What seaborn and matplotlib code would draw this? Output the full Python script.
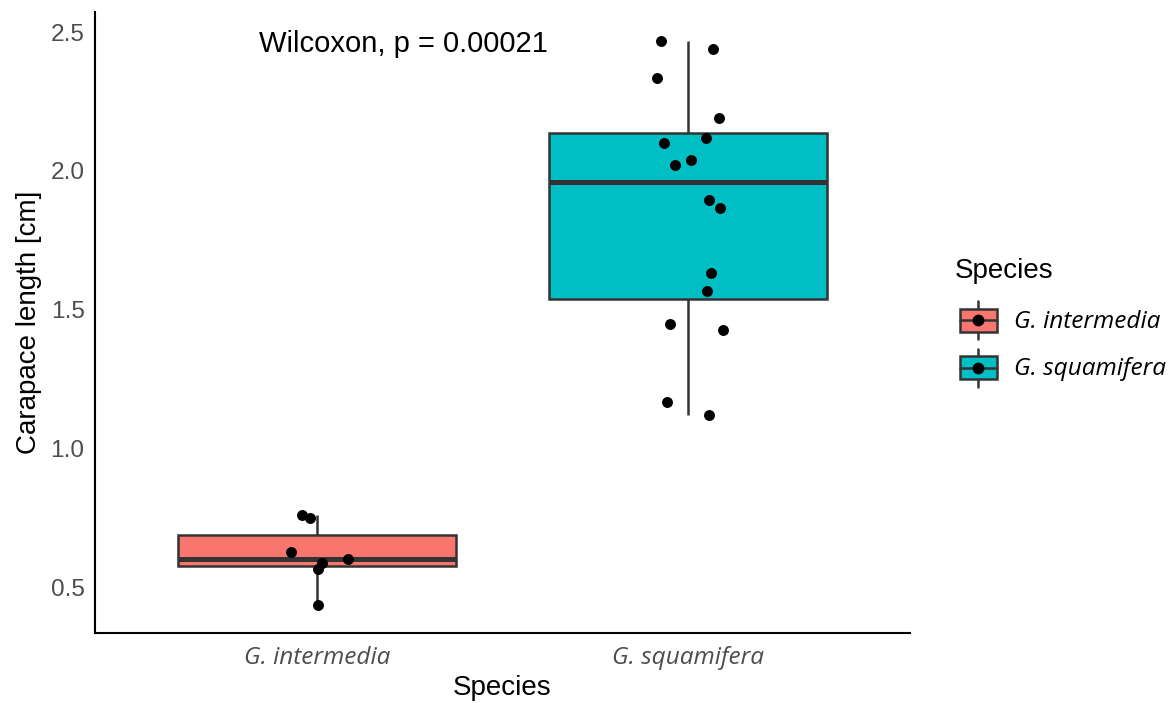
import numpy as np
import pandas as pd
import seaborn as sns
import matplotlib.pyplot as plt
from matplotlib.patches import Rectangle, Patch
from matplotlib.lines import Line2D
from matplotlib.legend_handler import HandlerBase

# ---------------------------------------------------------------------------
# data
# ---------------------------------------------------------------------------
species = ['G. intermedia', 'G. squamifera']
colors = ['#F8766D', '#00BFC4']

intermedia_len = [0.762, 0.750, 0.627, 0.603, 0.589, 0.567, 0.438]
intermedia_jit = [-0.041, -0.020, -0.071, 0.082, 0.012, 0.001, 0.003]

squamifera_len = [2.468, 2.438, 2.335, 2.191, 2.118, 2.101, 2.041, 2.023,
                  1.894, 1.866, 1.634, 1.568, 1.450, 1.426, 1.168, 1.122]
squamifera_jit = [-0.072, 0.067, -0.083, 0.085, 0.048, -0.063, 0.010, -0.034,
                  0.058, 0.086, 0.062, 0.051, -0.049, 0.094, -0.057, 0.058]

p_label = 'Wilcoxon, p = 0.00021'
y_ticks = [0.5, 1.0, 1.5, 2.0, 2.5]

df = pd.DataFrame({
    'Species': [species[0]] * len(intermedia_len) + [species[1]] * len(squamifera_len),
    'length': intermedia_len + squamifera_len,
    'jitter': intermedia_jit + squamifera_jit,
})
df['xpos'] = df['Species'].map({s: i for i, s in enumerate(species)}) + df['jitter']

# ---------------------------------------------------------------------------
# plot
# ---------------------------------------------------------------------------
sns.set_style('white')
plt.rcParams['font.family'] = ['Liberation Sans', 'DejaVu Sans']
plt.rcParams['text.color'] = 'black'
plt.rcParams['axes.labelcolor'] = 'black'

italic_fam = ['Open Sans', 'Noto Sans', 'DejaVu Sans']

fig = plt.figure(figsize=(11.74, 7.03), dpi=100)
ax = fig.add_axes([95 / 1174, 1 - 633 / 703, 815 / 1174, 621 / 703])

sns.boxplot(data=df, x='Species', y='length', hue='Species', order=species,
            hue_order=species, palette=colors, saturation=1, width=0.75,
            linecolor='#333333', linewidth=1.8, showcaps=False, showfliers=False,
            medianprops=dict(linewidth=3.6), legend=False, ax=ax)
sns.scatterplot(data=df, x='xpos', y='length', color='black', s=62,
                linewidth=0, zorder=3, ax=ax)

ax.set_xlim(-0.6, 1.6)
ax.set_ylim(0.337, 2.572)
ax.set_xticks([0, 1])
ax.set_xticklabels(species, family=italic_fam, style='italic',
                   fontsize=17.6, color='#4D4D4D')
ax.set_yticks(y_ticks)
ax.set_yticklabels([f'{t:.1f}' for t in y_ticks], fontsize=17.6, color='#4D4D4D')
ax.tick_params(axis='both', length=4.3, width=1.2, color='#333333', pad=3.2)
ax.tick_params(axis='x', pad=5)

for side in ['top', 'right']:
    ax.spines[side].set_visible(False)
for side in ['left', 'bottom']:
    ax.spines[side].set_linewidth(1.5)
    ax.spines[side].set_color('black')

ax.set_xlabel('Species', fontsize=20, labelpad=4)
ax.set_ylabel('Carapace length [cm]', fontsize=20, labelpad=6)

ax.text(-0.157, 2.457, p_label, fontsize=21, ha='left', va='center')


# legend key: whisker, box, median and a dot like the ggplot key
class BoxKeyHandler(HandlerBase):
    def create_artists(self, legend, orig_handle, xdescent, ydescent,
                       width, height, fontsize, trans):
        x0, y0 = -xdescent, -ydescent
        cx = x0 + width / 2
        cy = y0 + height / 2
        whisk = Line2D([cx, cx], [y0, y0 + height], color='#333333', lw=1.8,
                       transform=trans)
        box = Rectangle((x0, y0 + 0.19 * height), width, 0.62 * height,
                        facecolor=orig_handle.get_facecolor(),
                        edgecolor='#333333', lw=1.8, transform=trans)
        med = Line2D([x0, x0 + width], [cy, cy], color='#333333', lw=1.8,
                     transform=trans)
        dot = Line2D([cx], [cy], marker='o', markersize=7.5, color='black',
                     linestyle='none', transform=trans)
        return [whisk, box, med, dot]


fig.text(955 / 1174, 1 - 271 / 703, 'Species', fontsize=20, va='center')

handles = [Patch(facecolor=c) for c in colors]
leg = fig.legend(handles, species, loc='center left',
                 bbox_to_anchor=(960 / 1174, 1 - 344 / 703), frameon=False,
                 handler_map={Patch: BoxKeyHandler()},
                 prop=dict(family=italic_fam, style='italic', size=17.6),
                 borderpad=0, borderaxespad=0, handlelength=1.5,
                 handleheight=2.02, labelspacing=0.37, handletextpad=0.7)
for t in leg.get_texts():
    t.set_color('black')

fig.savefig('out.png', dpi=100)
